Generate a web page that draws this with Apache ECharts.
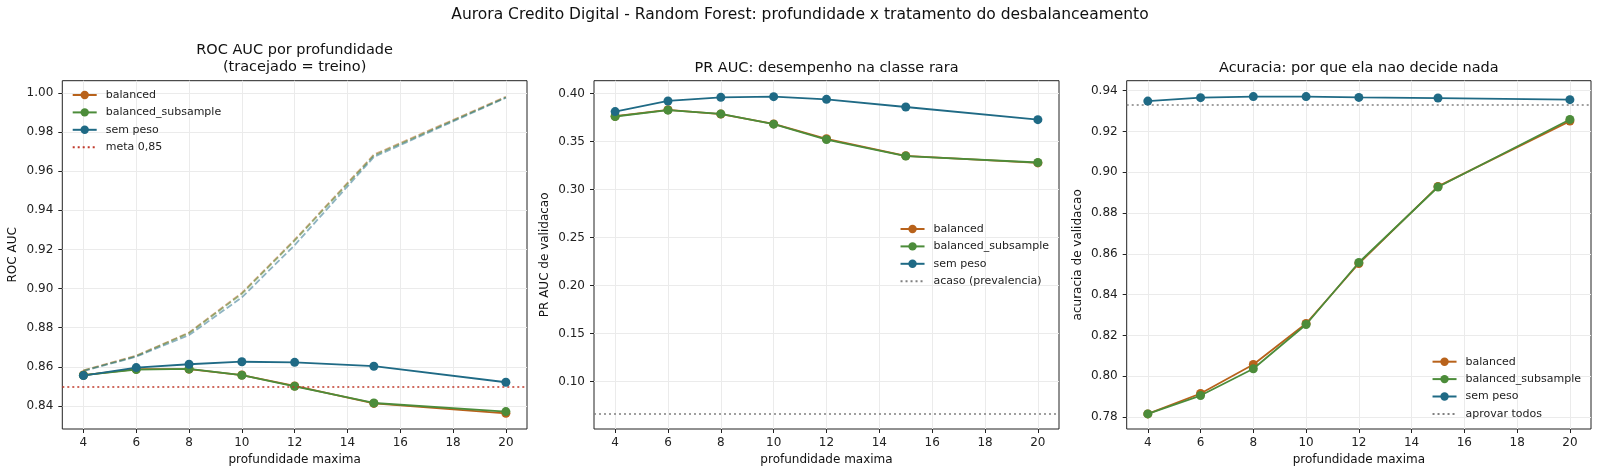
<!DOCTYPE html>
<html>
<head>
<meta charset="utf-8">
<script src="https://cdn.jsdelivr.net/npm/echarts@6/dist/echarts.min.js"></script>
<style>
html,body{margin:0;padding:0;background:#fff;}
#c{width:1600px;height:476px;}
</style>
</head>
<body>
<div id="c"></div>
<script>
// ---- data ----
const DEPTHS = [4, 6, 8, 10, 12, 15, 20];
const X_TICKS = [4, 6, 8, 10, 12, 14, 16, 18, 20];

const ROC_VAL_BAL = [0.8558, 0.8588, 0.8588, 0.8558, 0.8502, 0.8413, 0.8362];
const ROC_VAL_SUB = [0.8557, 0.8586, 0.8589, 0.8557, 0.8500, 0.8415, 0.8371];
const ROC_VAL_SEM = [0.8555, 0.8596, 0.8613, 0.8626, 0.8623, 0.8603, 0.8521];
const ROC_TRAIN_BAL = [0.8582, 0.8657, 0.8775, 0.8978, 0.9250, 0.9685, 0.9981];
const ROC_TRAIN_SUB = [0.8580, 0.8655, 0.8772, 0.8973, 0.9245, 0.9680, 0.9978];
const ROC_TRAIN_SEM = [0.8578, 0.8652, 0.8762, 0.8955, 0.9222, 0.9673, 0.9976];
const META = 0.85;
const ROC_TICKS = [0.84, 0.86, 0.88, 0.90, 0.92, 0.94, 0.96, 0.98, 1.00];

const PR_BAL = [0.3765, 0.3832, 0.3787, 0.3685, 0.3530, 0.3353, 0.3279];
const PR_SUB = [0.3762, 0.3828, 0.3789, 0.3682, 0.3522, 0.3350, 0.3283];
const PR_SEM = [0.3813, 0.3924, 0.3962, 0.3969, 0.3941, 0.3861, 0.3729];
const PREVALENCIA = 0.0671;
const PR_TICKS = [0.10, 0.15, 0.20, 0.25, 0.30, 0.35, 0.40];

const ACC_BAL = [0.7816, 0.7916, 0.8058, 0.8259, 0.8553, 0.8931, 0.9251];
const ACC_SUB = [0.7816, 0.7906, 0.8037, 0.8254, 0.8558, 0.8928, 0.9259];
const ACC_SEM = [0.9349, 0.9366, 0.9371, 0.9371, 0.9367, 0.9364, 0.9356];
const APROVAR_TODOS = 0.9333;
const ACC_TICKS = [0.78, 0.80, 0.82, 0.84, 0.86, 0.88, 0.90, 0.92, 0.94];

const NAMES = ['balanced', 'balanced_subsample', 'sem peso'];
const COLORS = ['#b8621b', '#4c8c3a', '#1f6a85'];

// ---- build ----
const FONT = 'DejaVu Sans';
const pairs = (ys) => DEPTHS.map((d, i) => [d, ys[i]]);

const GRIDS = [
  {left: 62.3, top: 80.7, width: 464.7, height: 348.3},
  {left: 594, top: 80.7, width: 465, height: 348.3},
  {left: 1126.7, top: 80.7, width: 464.3, height: 348.3}
];

function xAxis(i) {
  return {
    type: 'value', gridIndex: i, min: 3.2, max: 20.8, minInterval: 2, maxInterval: 2,
    name: 'profundidade maxima', nameLocation: 'middle', nameGap: 24,
    nameTextStyle: {fontSize: 12, color: '#111', fontFamily: FONT},
    axisLine: {show: false},
    axisTick: {show: true, length: 4, inside: false, customValues: X_TICKS, lineStyle: {color: '#222', width: 1}},
    axisLabel: {fontSize: 12, color: '#222', margin: 8, fontFamily: FONT, customValues: X_TICKS,
      formatter: v => String(v)},
    splitLine: {show: true, lineStyle: {color: '#ebebeb', width: 1}}
  };
}
function yAxis(i, min, max, step, ticks, name) {
  return {
    type: 'value', gridIndex: i, min: min, max: max, minInterval: step, maxInterval: step,
    name: name, nameLocation: 'middle', nameGap: 43,
    nameTextStyle: {fontSize: 12, color: '#111', fontFamily: FONT},
    axisLine: {show: false},
    axisTick: {show: true, length: 4, inside: false, customValues: ticks, lineStyle: {color: '#222', width: 1}},
    axisLabel: {fontSize: 12, color: '#222', margin: 9, fontFamily: FONT, customValues: ticks,
      formatter: v => v.toFixed(2)},
    splitLine: {show: true, lineStyle: {color: '#ebebeb', width: 1}}
  };
}

function valSeries(idx, name, ys, color, z) {
  return {
    type: 'line', name: name, xAxisIndex: idx, yAxisIndex: idx, data: pairs(ys),
    symbol: 'circle', symbolSize: 9, showSymbol: true, z: z,
    lineStyle: {color: color, width: 1.8}, itemStyle: {color: color},
    emphasis: {disabled: true}, animation: false
  };
}
function trainSeries(name, ys, color) {
  return {
    type: 'line', name: name, xAxisIndex: 0, yAxisIndex: 0, data: pairs(ys),
    symbol: 'none', showSymbol: false, z: 1,
    lineStyle: {color: color, width: 1.8, type: [6.5, 2.8], opacity: 0.5},
    itemStyle: {color: color}, emphasis: {disabled: true}, animation: false
  };
}
function refSeries(idx, name, value, color) {
  return {
    type: 'line', name: name, xAxisIndex: idx, yAxisIndex: idx, data: [],
    symbol: 'none', showSymbol: false, z: 1,
    lineStyle: {color: color, width: 1.6, type: [2, 3]}, itemStyle: {color: color},
    markLine: {
      silent: true, symbol: ['none', 'none'], label: {show: false}, animation: false,
      precision: 6,
      lineStyle: {color: color, width: 1.6, type: [2, 3]},
      emphasis: {disabled: true},
      data: [{yAxis: value}]
    },
    animation: false
  };
}

const series = [
  trainSeries('balanced (treino)', ROC_TRAIN_BAL, COLORS[0]),
  trainSeries('balanced_subsample (treino)', ROC_TRAIN_SUB, COLORS[1]),
  trainSeries('sem peso (treino)', ROC_TRAIN_SEM, COLORS[2]),
  refSeries(0, 'meta 0,85', META, '#c0392b'),
  valSeries(0, NAMES[0], ROC_VAL_BAL, COLORS[0], 3),
  valSeries(0, NAMES[1], ROC_VAL_SUB, COLORS[1], 4),
  valSeries(0, NAMES[2], ROC_VAL_SEM, COLORS[2], 5),

  refSeries(1, 'acaso (prevalencia)', PREVALENCIA, '#808080'),
  valSeries(1, NAMES[0], PR_BAL, COLORS[0], 3),
  valSeries(1, NAMES[1], PR_SUB, COLORS[1], 4),
  valSeries(1, NAMES[2], PR_SEM, COLORS[2], 5),

  refSeries(2, 'aprovar todos', APROVAR_TODOS, '#808080'),
  valSeries(2, NAMES[0], ACC_BAL, COLORS[0], 3),
  valSeries(2, NAMES[1], ACC_SUB, COLORS[1], 4),
  valSeries(2, NAMES[2], ACC_SEM, COLORS[2], 5)
];

function legend(pos, extra) {
  return Object.assign({
    orient: 'vertical', padding: 0, itemWidth: 24, itemHeight: 10.5, itemGap: 4.4,
    align: 'left', selectedMode: false,
    textStyle: {fontSize: 11, color: '#222', fontFamily: FONT, lineHeight: 13, padding: [0, 0, 0, 4]},
    data: NAMES.concat([{name: extra, itemStyle: {opacity: 0, color: 'rgba(0,0,0,0)', borderWidth: 0}}])
  }, pos);
}

const titleStyle = {fontSize: 14.5, fontWeight: 'normal', color: '#111', fontFamily: FONT, lineHeight: 17};

const option = {
  animation: false,
  backgroundColor: '#fff',
  textStyle: {fontFamily: FONT},
  title: [
    {text: 'Aurora Credito Digital - Random Forest: profundidade x tratamento do desbalanceamento',
     left: 800, top: 6, textAlign: 'center', padding: 0,
     textStyle: {fontSize: 15.5, fontWeight: 'normal', color: '#111', fontFamily: FONT, lineHeight: 18}},
    {text: 'ROC AUC por profundidade\n(tracejado = treino)', left: 294.6, top: 41.5, textAlign: 'center', padding: 0, textStyle: titleStyle},
    {text: 'PR AUC: desempenho na classe rara', left: 826.5, top: 59.5, textAlign: 'center', padding: 0, textStyle: titleStyle},
    {text: 'Acuracia: por que ela nao decide nada', left: 1358.8, top: 59.5, textAlign: 'center', padding: 0, textStyle: titleStyle}
  ],
  legend: [
    legend({left: 71.7, top: 88.5}, 'meta 0,85'),
    legend({right: 551, top: 222.5}, 'acaso (prevalencia)'),
    legend({right: 19, top: 355.2}, 'aprovar todos')
  ],
  grid: GRIDS.map(g => Object.assign({show: true, borderColor: '#222', borderWidth: 1, backgroundColor: 'transparent', containLabel: false}, g)),
  xAxis: [xAxis(0), xAxis(1), xAxis(2)],
  yAxis: [
    yAxis(0, 0.8282, 1.0063, 0.02, ROC_TICKS, 'ROC AUC'),
    yAxis(1, 0.0507, 0.4135, 0.05, PR_TICKS, 'PR AUC de validacao'),
    yAxis(2, 0.7742, 0.9449, 0.02, ACC_TICKS, 'acuracia de validacao')
  ],
  series: series
};

const chart = echarts.init(document.getElementById('c'), null, {renderer: 'canvas'});
chart.setOption(option);
</script>
</body>
</html>
